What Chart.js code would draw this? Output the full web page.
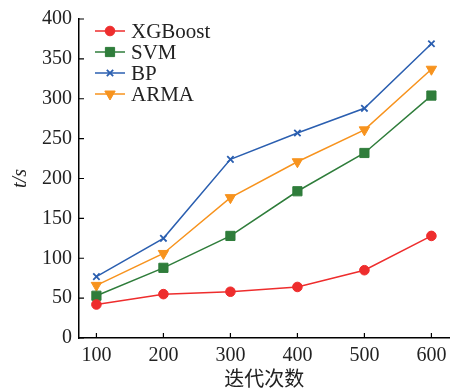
<!DOCTYPE html>
<html>
<head>
<meta charset="utf-8">
<script src="https://cdn.jsdelivr.net/npm/chart.js@4/dist/chart.umd.min.js"></script>
<style>
  html, body { margin: 0; padding: 0; background: #fff; }
  #wrap { width: 457px; height: 390px; position: relative; }
</style>
</head>
<body>
<div id="wrap"><canvas id="timeChart"></canvas></div>
<script>
// 迭代次数 vs 运行时间
const iterations = [100, 200, 300, 400, 500, 600];
const xgboostTime = [42, 55, 58, 64, 85, 128];
const svmTime = [53, 88, 128, 184, 232, 304];
const bpTime = [77, 125, 224, 257, 288, 369];
const armaTime = [66, 106, 176, 221, 261, 337];
const yTicks = [0, 50, 100, 150, 200, 250, 300, 350, 400];

const serif = "'Liberation Serif', 'Times New Roman', serif";

function toPoints(arr) {
    return iterations.map((x, i) => ({ x: x, y: arr[i] }));
}

function makeSeries(label, arr, color, style, radius, rotation) {
    return {
        label: label,
        data: toPoints(arr),
        borderColor: color,
        backgroundColor: color,
        pointBackgroundColor: color,
        pointBorderColor: color,
        pointStyle: style,
        pointRadius: radius,
        pointRotation: rotation || 0,
        pointBorderWidth: style === 'crossRot' ? 1.8 : 1,
        borderWidth: 1.5,
        tension: 0
    };
}

// draw inward tick marks on both axes
const inwardTicks = {
    id: 'inwardTicks',
    afterDraw(chart) {
        const c = chart.ctx;
        const xs = chart.scales.x, ys = chart.scales.y;
        c.save();
        c.strokeStyle = '#000';
        c.lineWidth = 1.2;
        c.beginPath();
        iterations.forEach(v => {
            const px = xs.getPixelForValue(v);
            c.moveTo(px, ys.bottom);
            c.lineTo(px, ys.bottom - 5);
        });
        yTicks.forEach(v => {
            const py = ys.getPixelForValue(v);
            c.moveTo(xs.left, py);
            c.lineTo(xs.left + 5, py);
        });
        c.stroke();
        c.restore();
    }
};

// legend drawn inside the plot, top-left
const insideLegend = {
    id: 'insideLegend',
    afterDraw(chart) {
        const c = chart.ctx;
        c.save();
        c.font = '21px ' + serif;
        c.textBaseline = 'middle';
        chart.data.datasets.forEach((ds, i) => {
            const y = 31 + i * 21;
            c.strokeStyle = ds.borderColor;
            c.lineWidth = 1.5;
            c.beginPath();
            c.moveTo(95, y);
            c.lineTo(125, y);
            c.stroke();
            c.fillStyle = ds.borderColor;
            c.lineWidth = ds.pointBorderWidth;
            Chart.helpers.drawPoint(c, {
                pointStyle: ds.pointStyle,
                radius: ds.pointRadius,
                borderWidth: ds.pointBorderWidth,
                rotation: ds.pointRotation
            }, 110, y);
            c.fillStyle = '#222';
            c.fillText(ds.label, 131, y + 1);
        });
        c.restore();
    }
};

new Chart(document.getElementById('timeChart'), {
    type: 'line',
    data: {
        datasets: [
            makeSeries('XGBoost', xgboostTime, '#ee2d2d', 'circle', 4.8),
            makeSeries('SVM', svmTime, '#2f7d3b', 'rect', 6.5),
            makeSeries('BP', bpTime, '#2b5fb0', 'crossRot', 4.5),
            makeSeries('ARMA', armaTime, '#f7931e', 'triangle', 6, 180)
        ]
    },
    options: {
        responsive: true,
        maintainAspectRatio: false,
        animation: false,
        layout: { padding: { top: 13, right: 4, left: 0, bottom: 0 } },
        plugins: {
            legend: { display: false },
            tooltip: { enabled: false }
        },
        scales: {
            x: {
                type: 'linear',
                min: 74,
                max: 627,
                afterBuildTicks: s => { s.ticks = iterations.map(v => ({ value: v })); },
                afterFit: s => { s.height = 52; },
                grid: { display: false, drawTicks: false },
                border: { color: '#000', width: 1.5 },
                ticks: {
                    color: '#222',
                    padding: 6,
                    maxRotation: 0,
                    font: { family: serif, size: 20 }
                },
                title: {
                    display: true,
                    text: '迭代次数',
                    color: '#222',
                    padding: 0,
                    font: { family: "'Noto Sans CJK SC', sans-serif", size: 20 }
                }
            },
            y: {
                min: 0,
                max: 400,
                afterBuildTicks: s => { s.ticks = yTicks.map(v => ({ value: v })); },
                afterFit: s => { s.width = 79; },
                grid: { display: false, drawTicks: false },
                border: { color: '#000', width: 1.5 },
                ticks: {
                    color: '#222',
                    padding: 7,
                    font: { family: serif, size: 20 }
                },
                title: {
                    display: true,
                    text: 't/s',
                    color: '#222',
                    padding: { top: 9, bottom: 0 },
                    font: { family: serif, size: 20, style: 'italic' }
                }
            }
        }
    },
    plugins: [inwardTicks, insideLegend]
});
</script>
</body>
</html>
